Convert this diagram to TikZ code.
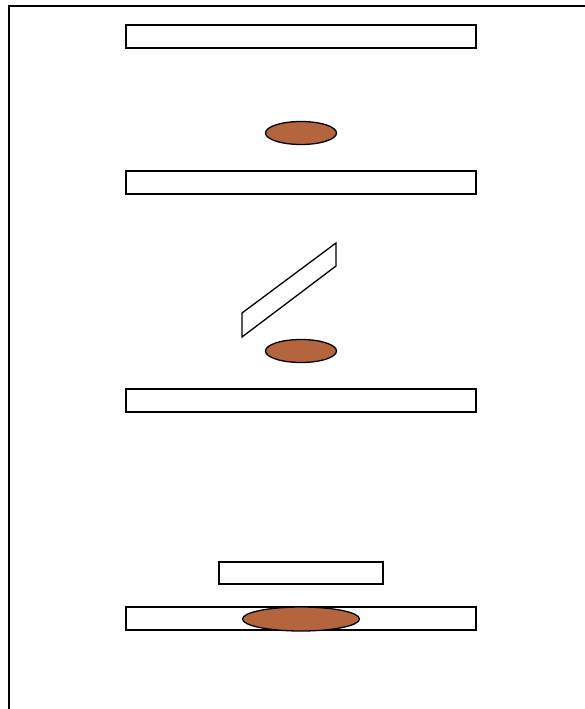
\documentclass[tikz,border=0pt]{standalone}
\definecolor{clay}{RGB}{181,101,61}
\begin{document}
\begin{tikzpicture}[x=1pt,y=-1pt,
  bar/.style={draw=black,fill=white,line width=1.3pt},
  disc/.style={draw=black,fill=clay,line width=1.3pt},
  frameline/.style={draw=black,line width=1.5pt}]
\useasboundingbox (0,0) rectangle (584,709);
% frame (left and top edges)
\draw[frameline] (9,712) -- (9,6) -- (586,6);
% bars
\draw[bar] (126,25) rectangle (476,48);
\draw[bar] (126,171) rectangle (476,194);
\draw[bar] (126,389) rectangle (476,412);
\draw[bar] (219,562) rectangle (383,584);
\draw[bar] (126,607) rectangle (476,630);
% discs
\draw[disc] (301,133) ellipse (35.5 and 11.5);
\draw[disc] (301,351) ellipse (35.5 and 11.5);
\draw[disc] (301,619) ellipse (58.5 and 12);
% tilted plate
\draw[bar] (242,313) -- (336,243) -- (336,266) -- (242,337) -- cycle;
\end{tikzpicture}
\end{document}
